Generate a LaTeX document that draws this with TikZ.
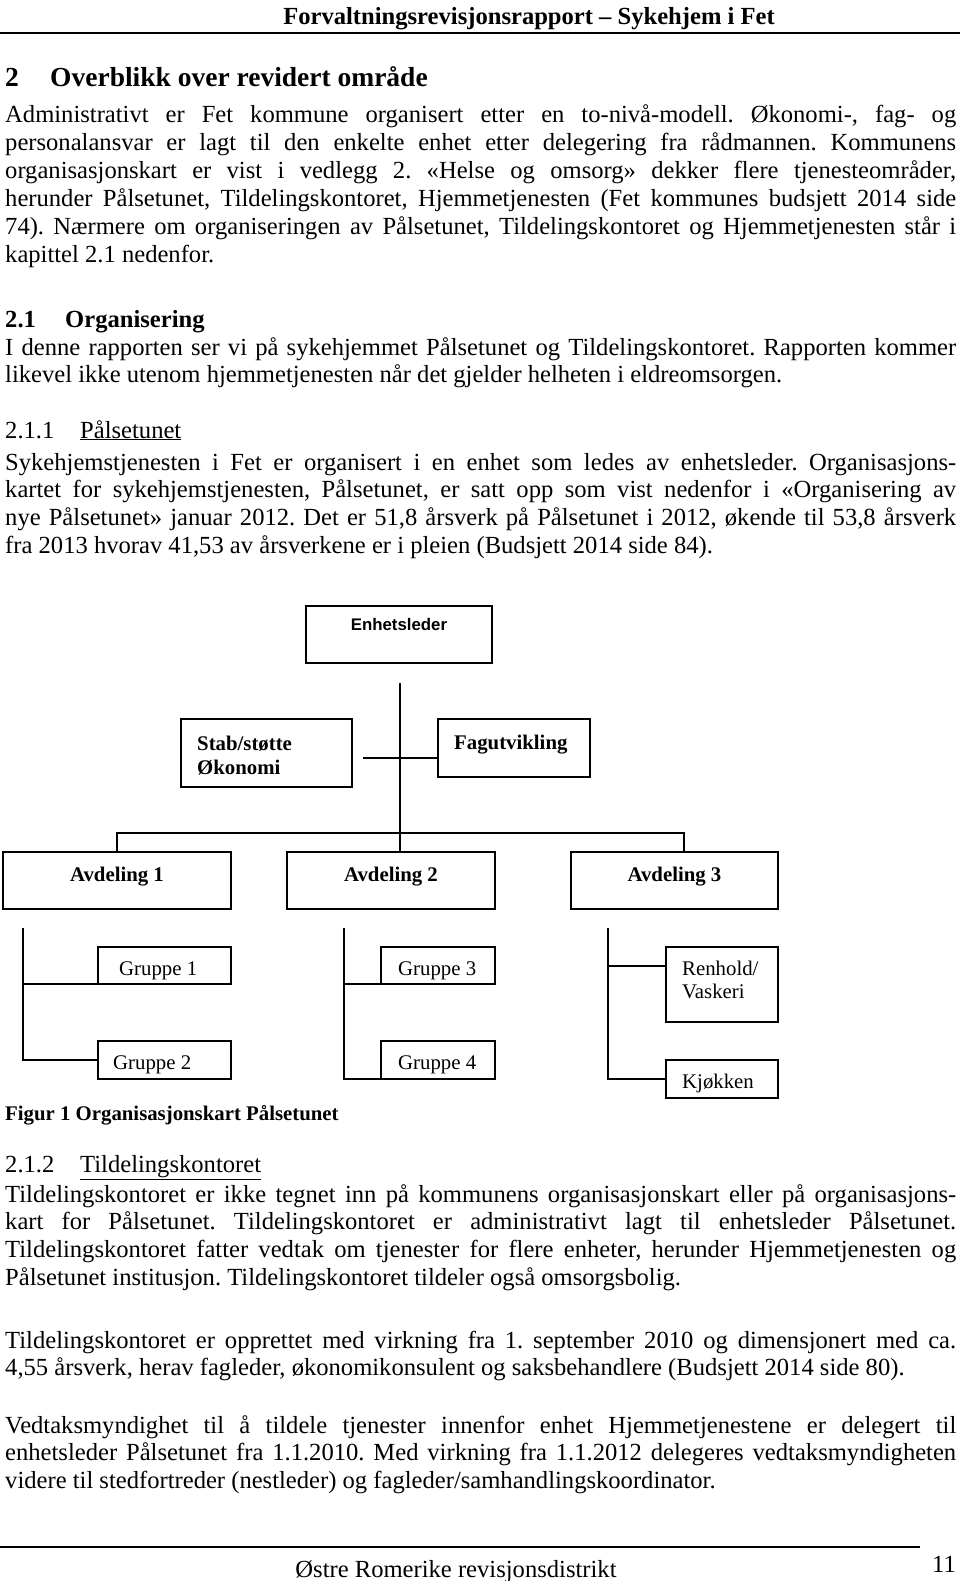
\documentclass[tikz,border=0pt]{standalone}
\usepackage{fontspec}
\setmainfont{Liberation Serif}
\newfontfamily\arialf{Liberation Sans}
\newcommand\bodyf{\fontsize{24.6}{27.9}\selectfont}
\newcommand\chartf{\fontsize{20.8}{24}\selectfont}
\newlength\linew
\setlength\linew{951pt}
\newcommand\jl[1]{\hbox to \linew{\spaceskip=0.25em plus 1em minus 0.12em\relax #1}}
\begin{document}
\frenchspacing
\begin{tikzpicture}[x=1pt,y=-1pt,
  box/.style={draw, line width=1.5pt, inner sep=0pt, outer sep=0pt, anchor=north west},
  conn/.style={line width=1.3pt},
  body/.style={anchor=base west, inner sep=0pt, font=\bodyf},
  bodyb/.style={anchor=base west, inner sep=0pt, font=\bodyf\bfseries},
  chart/.style={anchor=base west, inner sep=0pt, font=\chartf},
  chartb/.style={anchor=base, inner sep=0pt, font=\chartf\bfseries},
  rule/.style={line width=1.3pt}]
\useasboundingbox (0,0) rectangle (960,1581);

% header
\node[anchor=base east, inner sep=0pt, font=\bodyf\bfseries] (hdr) at (775,25) {Forvaltningsrevisjonsrapport -- Sykehjem i Fet};
\coordinate (hrl) at (0,33);
\coordinate (hrr) at (960,33);
\draw[rule] (hrl) -- (hrr);

% section 2
\node[anchor=base west, inner sep=0pt, font=\fontsize{27.5}{30}\selectfont\bfseries] (h2n) at (5,87) {2};
\node[anchor=base west, inner sep=0pt, font=\fontsize{27.5}{30}\selectfont\bfseries] (h2t) at (50,87) {Overblikk over revidert område};

\node[body] (p1a) at (5,123) {\jl{Administrativt er Fet kommune organisert etter en to-nivå-modell. Økonomi-, fag- og}};
\node[body] (p1b) at (5,150.9) {\jl{personalansvar er lagt til den enkelte enhet etter delegering fra rådmannen. Kommunens}};
\node[body] (p1c) at (5,178.8) {\jl{organisasjonskart er vist i vedlegg 2. «Helse og omsorg» dekker flere tjenesteområder,}};
\node[body] (p1d) at (5,206.7) {\jl{herunder Pålsetunet, Tildelingskontoret, Hjemmetjenesten (Fet kommunes budsjett 2014 side}};
\node[body] (p1e) at (5,234.6) {\jl{74). Nærmere om organiseringen av Pålsetunet, Tildelingskontoret og Hjemmetjenesten står i}};
\node[body] (p1f) at (5,262.5) {kapittel 2.1 nedenfor.};

% 2.1
\node[bodyb] (h21n) at (5,327) {2.1};
\node[bodyb] (h21t) at (65,327) {Organisering};
\node[body] (p2a) at (5,355) {\jl{I denne rapporten ser vi på sykehjemmet Pålsetunet og Tildelingskontoret. Rapporten kommer}};
\node[body] (p2b) at (5,382.9) {likevel ikke utenom hjemmetjenesten når det gjelder helheten i eldreomsorgen.};

% 2.1.1
\node[body] (h211n) at (5,438) {2.1.1};
\node[body] (h211t) at (80,438) {\underline{Pålsetunet}};
\node[body] (p3a) at (5,470) {\jl{Sykehjemstjenesten i Fet er organisert i en enhet som ledes av enhetsleder. Organisasjons-}};
\node[body] (p3b) at (5,497.9) {\jl{kartet for sykehjemstjenesten, Pålsetunet, er satt opp som vist nedenfor i «Organisering av}};
\node[body] (p3c) at (5,525.8) {\jl{nye Pålsetunet» januar 2012. Det er 51,8 årsverk på Pålsetunet i 2012, økende til 53,8 årsverk}};
\node[body] (p3d) at (5,553.7) {fra 2013 hvorav 41,53 av årsverkene er i pleien (Budsjett 2014 side 84).};

% org chart boxes
\node[box, minimum width=186pt, minimum height=57pt] (el) at (306,606) {};
\node[box, minimum width=171pt, minimum height=68pt] (stab) at (181,719) {};
\node[box, minimum width=152pt, minimum height=58pt] (fag) at (438,719) {};
\node[box, minimum width=228pt, minimum height=57pt] (a1) at (3,852) {};
\node[box, minimum width=208pt, minimum height=57pt] (a2) at (287,852) {};
\node[box, minimum width=207pt, minimum height=57pt] (a3) at (571,852) {};
\node[box, minimum width=133pt, minimum height=37pt] (g1) at (98,947) {};
\node[box, minimum width=133pt, minimum height=38pt] (g2) at (98,1041) {};
\node[box, minimum width=114pt, minimum height=37pt] (g3) at (381,947) {};
\node[box, minimum width=114pt, minimum height=38pt] (g4) at (381,1041) {};
\node[box, minimum width=112pt, minimum height=75pt] (ren) at (666,947) {};
\node[box, minimum width=112pt, minimum height=38pt] (kj) at (666,1060) {};

% org chart labels
\node[anchor=base, inner sep=0pt, font=\arialf\fontsize{16.8}{19}\selectfont\bfseries] (elt) at (399,630) {Enhetsleder};
\node[chart, font=\chartf\bfseries] (stabt1) at (197,750) {Stab/støtte};
\node[chart, font=\chartf\bfseries] (stabt2) at (197,774) {Økonomi};
\node[chart, font=\chartf\bfseries] (fagt) at (454,749) {Fagutvikling};
\node[chartb] (a1t) at (117,881) {Avdeling 1};
\node[chartb] (a2t) at (391,881) {Avdeling 2};
\node[chartb] (a3t) at (674.5,881) {Avdeling 3};
\node[chart] (g1t) at (119,975) {Gruppe 1};
\node[chart] (g2t) at (113,1069) {Gruppe 2};
\node[chart] (g3t) at (398,975) {Gruppe 3};
\node[chart] (g4t) at (398,1069) {Gruppe 4};
\node[chart] (rent1) at (682,975) {Renhold/};
\node[chart] (rent2) at (682,998) {Vaskeri};
\node[chart] (kjt) at (682,1088) {Kjøkken};

% connectors
\coordinate (elb) at (400,683);
\draw[conn] (elb) -- (elb |- a2.north);
\coordinate (sl) at (363,758);
\draw[conn] (sl) -- (sl -| fag.west);
\coordinate (a3c) at (684,852);
\coordinate (bar) at (684,833);
\draw[conn] (a1.north) |- (bar) -- (a3c);
\coordinate (v1) at (23,928);
\draw[conn] (v1) |- (g2.west);
\draw[conn] (v1 |- g1.south) -- (g1.south west);
\coordinate (v2) at (344,928);
\draw[conn] (v2) |- (g4.south west);
\draw[conn] (v2 |- g3.south) -- (g3.south west);
\coordinate (v3) at (608,928);
\draw[conn] (v3) |- (kj.west);
\coordinate (rc) at (608,966);
\draw[conn] (rc) -- (rc -| ren.west);

% caption
\node[anchor=base west, inner sep=0pt, font=\chartf\bfseries] (cap) at (5,1120) {Figur 1 Organisasjonskart Pålsetunet};

% 2.1.2
\node[body] (h212n) at (5,1172) {2.1.2};
\node[body] (h212t) at (80,1172) {\underline{Tildelingskontoret}};
\node[body] (p4a) at (5,1202) {\jl{Tildelingskontoret er ikke tegnet inn på kommunens organisasjonskart eller på organisasjons-}};
\node[body] (p4b) at (5,1229.9) {\jl{kart for Pålsetunet. Tildelingskontoret er administrativt lagt til enhetsleder Pålsetunet.}};
\node[body] (p4c) at (5,1257.8) {\jl{Tildelingskontoret fatter vedtak om tjenester for flere enheter, herunder Hjemmetjenesten og}};
\node[body] (p4d) at (5,1285.7) {Pålsetunet institusjon. Tildelingskontoret tildeler også omsorgsbolig.};

\node[body] (p5a) at (5,1348) {\jl{Tildelingskontoret er opprettet med virkning fra 1. september 2010 og dimensjonert med ca.}};
\node[body] (p5b) at (5,1375.9) {4,55 årsverk, herav fagleder, økonomikonsulent og saksbehandlere (Budsjett 2014 side 80).};

\node[body] (p6a) at (5,1433) {\jl{Vedtaksmyndighet til å tildele tjenester innenfor enhet Hjemmetjenestene er delegert til}};
\node[body] (p6b) at (5,1460.9) {\jl{enhetsleder Pålsetunet fra 1.1.2010. Med virkning fra 1.1.2012 delegeres vedtaksmyndigheten}};
\node[body] (p6c) at (5,1488.8) {videre til stedfortreder (nestleder) og fagleder/samhandlingskoordinator.};

% footer
\coordinate (frl) at (0,1547);
\coordinate (frr) at (920,1547);
\draw[rule] (frl) -- (frr);
\node[anchor=base, inner sep=0pt, font=\bodyf] (ftr) at (456,1577) {Østre Romerike revisjonsdistrikt};
\node[anchor=base east, inner sep=0pt, font=\bodyf] (pg) at (956,1572) {11};
\end{tikzpicture}
\end{document}
